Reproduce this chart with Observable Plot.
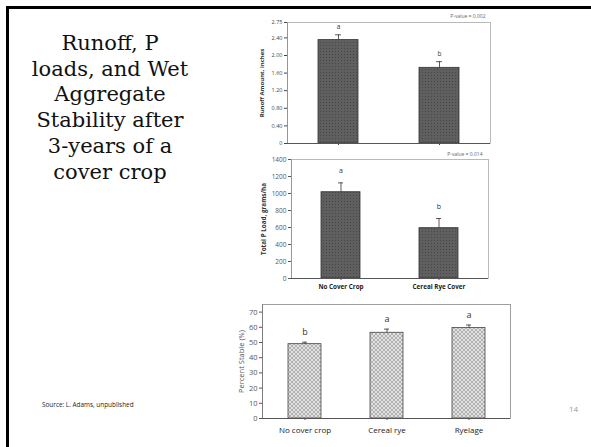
<!DOCTYPE html>
<html>
<head>
<meta charset="utf-8">
<script src="https://cdn.jsdelivr.net/npm/d3@7"></script>
<script src="https://cdn.jsdelivr.net/npm/@observablehq/plot@0.6"></script>
<style>
  body { margin: 0; background: #fff; }
  #slide { position: relative; width: 591px; height: 447px; overflow: hidden; background: #fff; }
  #topbar { position: absolute; left: 6px; top: 6px; width: 585px; height: 3px; background: #000; }
  #leftbar { position: absolute; left: 6px; top: 6px; width: 3px; height: 441px; background: #000; }
  #title { position: absolute; left: 10px; top: 31px; width: 200px; text-align: center;
           font-family: "DejaVu Serif", serif; font-size: 21px; line-height: 25.7px; color: #111; }
  #source { position: absolute; left: 42px; top: 400px; font-family: "Open Sans", sans-serif; font-size: 6.4px; color: #222; }
  #pagenum { position: absolute; left: 569px; top: 403px; font-family: "Open Sans", sans-serif; font-size: 8px; color: #999; }
  .chart { position: absolute; }
</style>
</head>
<body>
<svg width="0" height="0" style="position:absolute">
  <defs>
    <pattern id="dark" width="3" height="3" patternUnits="userSpaceOnUse">
      <rect width="3" height="3" fill="#5f5f5f"/>
      <rect width="1" height="1" fill="#474747"/>
    </pattern>
    <pattern id="light" width="4" height="4" patternUnits="userSpaceOnUse">
      <rect width="4" height="4" fill="#e2e2e2"/>
      <path d="M0,0L4,4M4,0L0,4" stroke="#9c9c9c" stroke-width="0.7"/>
    </pattern>
  </defs>
</svg>
<div id="slide">
  <div id="topbar"></div>
  <div id="leftbar"></div>
  <div id="title">Runoff, P<br>loads, and Wet<br>Aggregate<br>Stability after<br>3-years of a<br>cover crop</div>
  <div id="source">Source: L. Adams, unpublished</div>
  <div id="pagenum">14</div>
</div>
<script>
// ---- Data ----
const coverCats = ["No Cover Crop", "Cereal Rye Cover"];
const runoffValues = [2.35, 1.72];
const runoffErr = [0.12, 0.14];
const runoffLetters = ["a", "b"];
const runoffTicks = [0, 0.4, 0.8, 1.2, 1.6, 2.0, 2.4, 2.75];
const runoffPValue = "P-value = 0.002";

const pLoadValues = [1015, 592];
const pLoadErr = [110, 114];
const pLoadLetters = ["a", "b"];
const pLoadTicks = [0, 200, 400, 600, 800, 1000, 1200, 1400];
const pLoadPValue = "P-value = 0.014";

const stabCats = ["No cover crop", "Cereal rye", "Ryelage"];
const stabValues = [48.9, 56.4, 59.5];
const stabErr = [1.3, 2.4, 2.0];
const stabLetters = ["b", "a", "a"];
const stabTicks = [0, 10, 20, 30, 40, 50, 60, 70];

const slide = document.getElementById("slide");

function barChart(cfg) {
  const data = cfg.cats.map((c, i) => ({c, v: cfg.values[i], e: cfg.err[i], l: cfg.letters[i]}));
  const marks = [
    Plot.frame({stroke: cfg.frameColor, strokeWidth: 0.8}),
    Plot.barY(data, {x: "c", y: "v", fill: cfg.fill, stroke: cfg.barStroke, strokeWidth: 0.8}),
    Plot.ruleX(data, {x: "c", y1: "v", y2: d => d.v + d.e, stroke: "#333", strokeWidth: 0.8}),
    Plot.tickY(data, {x: "c", y: d => d.v + d.e, stroke: "#333", strokeWidth: 0.8, inset: cfg.capInset}),
    Plot.text(data, {x: "c", y: d => d.v + d.e, text: "l", dy: cfg.letterDy, fontSize: cfg.letterSize, fill: "#333"}),
    Plot.ruleY([0], {stroke: cfg.axisColor, strokeWidth: 1}),
    Plot.text([cfg.ylabel], {frameAnchor: "left", textAnchor: "middle", rotate: -90, dx: cfg.ylabelDx,
      fontSize: cfg.ylabelSize, fontWeight: cfg.ylabelWeight, fill: cfg.ylabelColor})
  ];
  if (cfg.pvalue) {
    marks.push(Plot.text([cfg.pvalue], {frameAnchor: "top-right", textAnchor: "end", dx: cfg.pDx, dy: cfg.pDy,
      fontSize: 5, fill: "#666"}));
  }
  const xOpts = {domain: cfg.cats, paddingInner: 0.6, paddingOuter: 0.3, label: null, tickSize: 2, tickPadding: cfg.xPad};
  if (!cfg.xLabels) xOpts.tickFormat = () => "";
  const svg = Plot.plot({
    width: cfg.width, height: cfg.height,
    marginLeft: cfg.ml, marginRight: cfg.mr, marginTop: cfg.mt, marginBottom: cfg.mb,
    style: {fontFamily: "Open Sans, sans-serif", fontSize: cfg.tickSize + "px", color: cfg.tickColor, background: "transparent"},
    x: xOpts,
    y: {domain: cfg.domain, ticks: cfg.ticks, tickFormat: cfg.yFormat, tickSize: 3, tickPadding: 2,
        label: null, line: true},
    marks
  });
  svg.classList.add("chart");
  svg.style.left = cfg.left + "px";
  svg.style.top = cfg.top + "px";
  slide.appendChild(svg);
  if (cfg.xLabelStyle) {
    svg.querySelectorAll("[aria-label='x-axis tick label'] text, g[aria-label='x-axis'] text").forEach(t => {
      t.setAttribute("fill", "#222");
      Object.assign(t.style, cfg.xLabelStyle);
    });
  }
  return svg;
}

// Chart 1: Runoff
barChart({
  cats: coverCats, values: runoffValues, err: runoffErr, letters: runoffLetters,
  left: 230, top: 0, width: 280, height: 150, ml: 57, mr: 20, mt: 22, mb: 7,
  domain: [0, 2.75], ticks: runoffTicks, yFormat: d => d === 0 ? "0" : d.toFixed(2),
  fill: "url(#dark)", barStroke: "#333", capInset: 17, letterDy: -8, letterSize: 6.5,
  frameColor: "#aaa", axisColor: "#555", tickSize: 5.5, tickColor: "#444", xLabels: false, xPad: 2,
  ylabel: "Runoff Amount, inches", ylabelDx: -25, ylabelSize: 6, ylabelWeight: "bold", ylabelColor: "#333",
  pvalue: runoffPValue, pDx: -5, pDy: -8
});

// Chart 2: Total P load
barChart({
  cats: coverCats, values: pLoadValues, err: pLoadErr, letters: pLoadLetters,
  left: 230, top: 150, width: 280, height: 150, ml: 61, mr: 22, mt: 9, mb: 22,
  domain: [0, 1400], ticks: pLoadTicks, yFormat: d => String(d),
  fill: "url(#dark)", barStroke: "#333", capInset: 17, letterDy: -12, letterSize: 7,
  frameColor: "#aaa", axisColor: "#555", tickSize: 6.5, tickColor: "#555", xLabels: true, xPad: 4,
  xLabelStyle: {fontWeight: "bold", fill: "#222", fontSize: "6.3px"},
  ylabel: "Total P Load, grams/ha", ylabelDx: -28, ylabelSize: 6.3, ylabelWeight: "bold", ylabelColor: "#333",
  pvalue: pLoadPValue, pDx: -6, pDy: -7
});

// Chart 3: Percent stable
barChart({
  cats: stabCats, values: stabValues, err: stabErr, letters: stabLetters,
  left: 230, top: 300, width: 290, height: 147, ml: 32, mr: 10, mt: 4, mb: 29,
  domain: [0, 75], ticks: stabTicks, yFormat: d => String(d),
  fill: "url(#light)", barStroke: "#444", capInset: 14, letterDy: -10, letterSize: 9,
  frameColor: "#888", axisColor: "#555", tickSize: 7.5, tickColor: "#555", xLabels: true, xPad: 7,
  xLabelStyle: {fill: "#222", fontSize: "8px"},
  ylabel: "Percent Stable (%)", ylabelDx: -21, ylabelSize: 7.5, ylabelWeight: "normal", ylabelColor: "#555",
  pvalue: null
});
</script>
</body>
</html>
